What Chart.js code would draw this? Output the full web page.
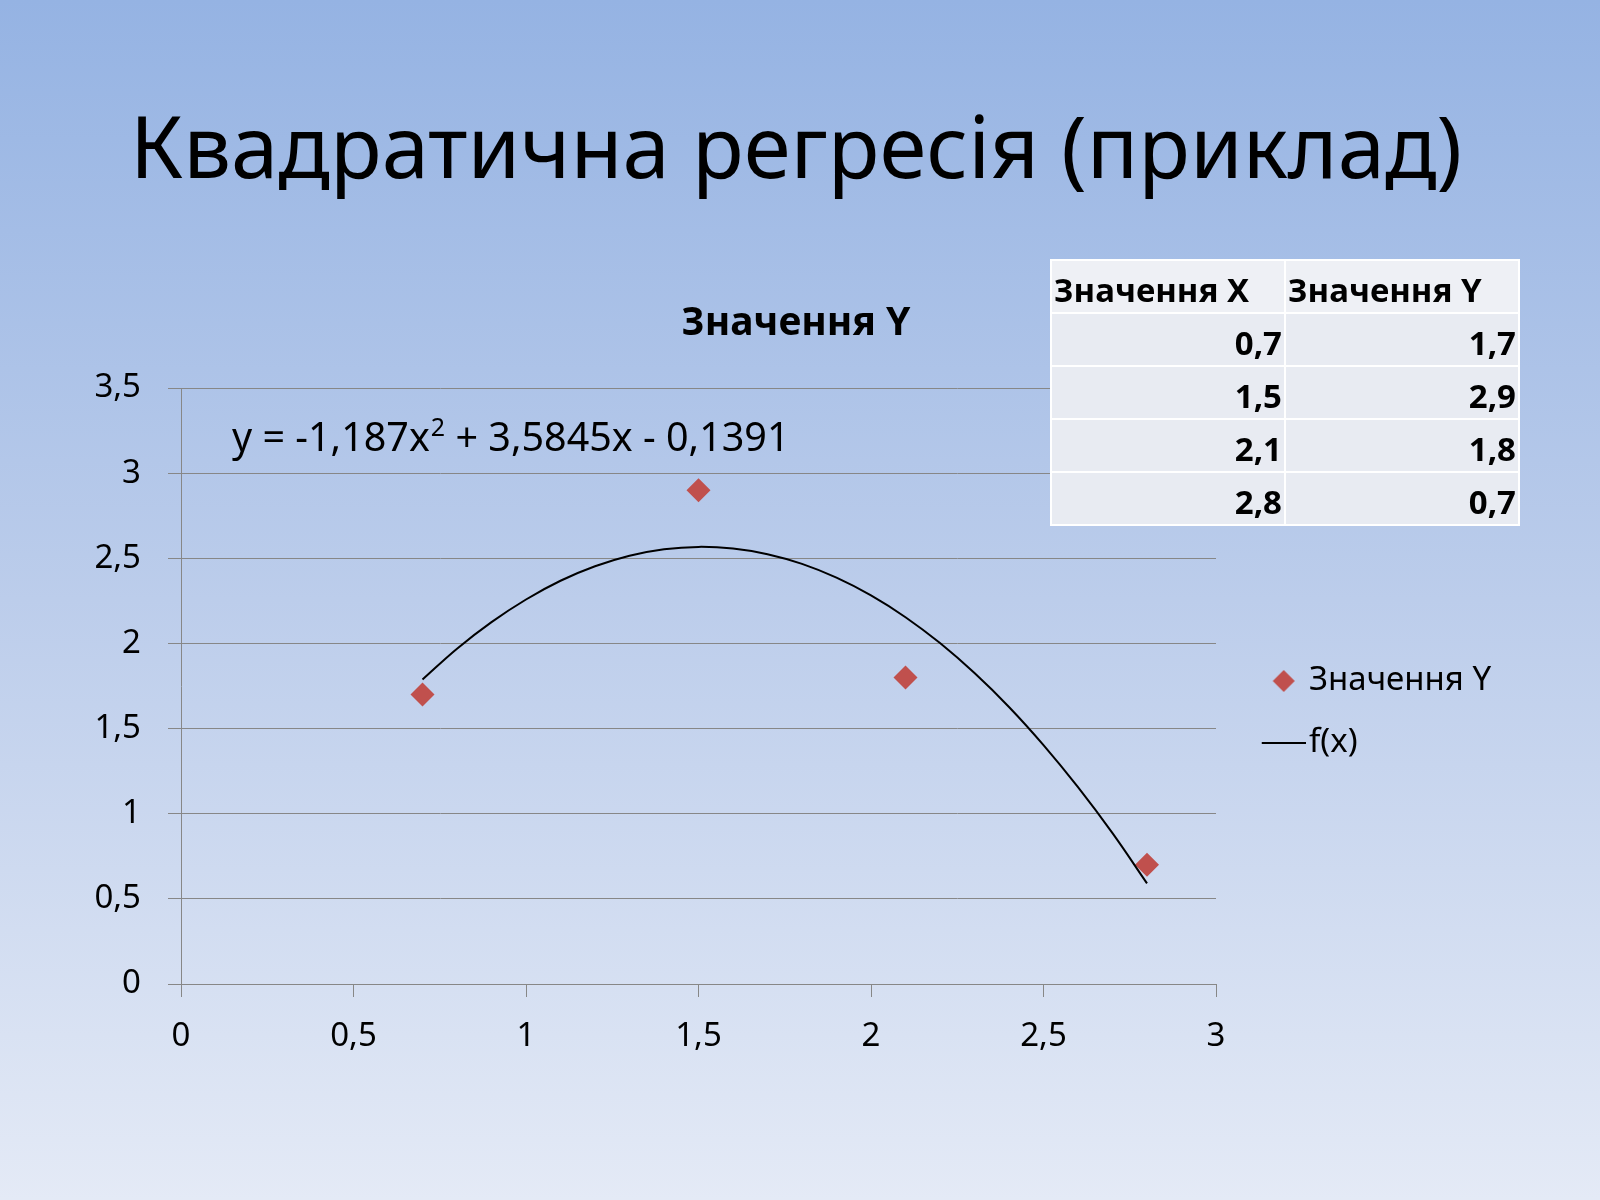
<!DOCTYPE html>
<html><head><meta charset="utf-8">
<script src="https://cdn.jsdelivr.net/npm/chart.js@4.4.0/dist/chart.umd.min.js"></script>
<style>
html,body{margin:0;padding:0;}
body{width:1600px;height:1200px;overflow:hidden;position:relative;background:linear-gradient(to bottom,#95b3e3 0%,#bccdeb 50%,#e4eaf6 100%);font-family:"Noto Sans",sans-serif;}
#c{position:absolute;left:0;top:0;}
#tbl{position:absolute;left:1050px;top:259px;border-collapse:collapse;font-family:"Noto Sans",sans-serif;font-weight:bold;font-size:33px;color:#000;}
#tbl td{width:228px;height:45px;padding:0 2px 6px 2px;border:2px solid #fff;background:#e8ebf2;vertical-align:bottom;text-align:right;line-height:1;white-space:nowrap;}
#tbl tr:first-child td{background:#eef0f5;text-align:left;}
</style></head>
<body>
<canvas id="c" width="1600" height="1200"></canvas>
<table id="tbl"></table>
<script>
const pageTitle = 'Квадратична регресія (приклад)';
const seriesLabel = 'Значення Y';
const trendLabel = 'f(x)';
const tableHeaders = ['Значення X', 'Значення Y'];
const xValues = [0.7, 1.5, 2.1, 2.8];
const yValues = [1.7, 2.9, 1.8, 0.7];
const xValueLabels = ['0,7', '1,5', '2,1', '2,8'];
const yValueLabels = ['1,7', '2,9', '1,8', '0,7'];
const curveX = [0.7, 0.8, 0.9, 1.0, 1.1, 1.2, 1.3, 1.4, 1.5, 1.6, 1.7, 1.8, 1.9, 2.0, 2.1, 2.2, 2.3, 2.4, 2.5, 2.6, 2.7, 2.8];
const curveY = [1.788, 1.969, 2.125, 2.258, 2.368, 2.453, 2.515, 2.553, 2.567, 2.557, 2.524, 2.467, 2.386, 2.282, 2.154, 2.002, 1.826, 1.627, 1.403, 1.156, 0.886, 0.591];
const xTickLabels = ['0', '0,5', '1', '1,5', '2', '2,5', '3'];
const yTickLabels = ['0', '0,5', '1', '1,5', '2', '2,5', '3', '3,5'];
const equationMain = 'y = -1,187x';
const equationSup = '2';
const equationRest = ' + 3,5845x - 0,1391';

// table
const tbl = document.getElementById('tbl');
let html = '<tr><td>' + tableHeaders[0] + '</td><td>' + tableHeaders[1] + '</td></tr>';
for (let i = 0; i < xValueLabels.length; i++) html += '<tr><td>' + xValueLabels[i] + '</td><td>' + yValueLabels[i] + '</td></tr>';
tbl.innerHTML = html;

const FONT = '"Noto Sans", sans-serif';
const GRID = '#878787';

function makeSwatch(kind) {
  const cv = document.createElement('canvas');
  const g = cv.getContext('2d');
  if (kind === 'diamond') {
    cv.width = 56; cv.height = 26;
    g.fillStyle = '#c0504d';
    g.beginPath(); g.moveTo(43, 2); g.lineTo(54, 13); g.lineTo(43, 24); g.lineTo(32, 13); g.closePath(); g.fill();
  } else {
    cv.width = 74; cv.height = 4;
    g.strokeStyle = '#000'; g.lineWidth = 2;
    g.beginPath(); g.moveTo(30, 2); g.lineTo(74, 2); g.stroke();
  }
  return cv;
}
const swatches = [makeSwatch('diamond'), makeSwatch('line')];

const equationPlugin = {
  id: 'equation',
  afterDatasetsDraw(chart) {
    const c = chart.ctx;
    c.save();
    c.fillStyle = '#000';
    c.textBaseline = 'alphabetic';
    c.font = '39.5px ' + FONT;
    let x = 232; const y = 451;
    c.fillText(equationMain, x, y); x += c.measureText(equationMain).width;
    c.font = '25px ' + FONT;
    c.fillText(equationSup, x + 1, y - 15); x += c.measureText(equationSup).width + 1;
    c.font = '39.5px ' + FONT;
    c.fillText(equationRest, x, y);
    c.restore();
  }
};

const chart = new Chart(document.getElementById('c'), {
  type: 'scatter',
  data: {
    datasets: [
      { label: seriesLabel, data: xValues.map((x, i) => ({x: x, y: yValues[i]})),
        pointStyle: 'rectRot', pointRadius: 12, pointHoverRadius: 12,
        backgroundColor: '#c0504d', borderColor: '#c0504d', borderWidth: 0, order: 1 },
      { label: trendLabel, data: curveX.map((x, i) => ({x: x, y: curveY[i]})),
        showLine: true, borderColor: '#000', borderWidth: 2, pointRadius: 0, pointHoverRadius: 0,
        tension: 0.4, fill: false, order: 0 }
    ]
  },
  options: {
    responsive: false, animation: false, devicePixelRatio: 1,
    layout: { padding: { left: 91, right: 100, top: 0, bottom: 136 } },
    plugins: {
      title: { display: true, text: pageTitle, color: '#000', font: { family: FONT, size: 85, weight: 'normal' }, padding: { top: 103, bottom: 0 } },
      subtitle: { display: true, text: seriesLabel, color: '#000', font: { family: FONT, size: 39, weight: 'bold' }, padding: { top: 95.6, bottom: 40.6 } },
      legend: {
        position: 'right', fullSize: false,
        title: { display: true, text: ' ', color: 'rgba(0,0,0,0)', font: { size: 10, lineHeight: 1.2 }, padding: { top: 20, bottom: 20 } },
        labels: {
          usePointStyle: true, pointStyleWidth: 47.5, padding: 29, color: '#000',
          font: { family: FONT, size: 33 },
          generateLabels(ch) {
            const items = Chart.defaults.plugins.legend.labels.generateLabels(ch);
            items.sort((a, b) => a.datasetIndex - b.datasetIndex);
            items.forEach(it => { it.pointStyle = swatches[it.datasetIndex]; it.lineWidth = 0; });
            return items;
          }
        }
      },
      tooltip: { enabled: false }
    },
    scales: {
      x: { type: 'linear', min: 0, max: 3,
        ticks: { stepSize: 0.5, callback: (v, i) => xTickLabels[i], color: '#000', font: { family: FONT, size: 33 }, padding: 20, maxRotation: 0 },
        grid: { drawOnChartArea: false, drawTicks: true, tickLength: 13, color: GRID },
        border: { display: true, color: GRID, width: 1 },
        afterFit(s) { s.height = 80; } },
      y: { type: 'linear', min: 0, max: 3.5,
        ticks: { stepSize: 0.5, callback: (v, i) => yTickLabels[i], color: '#000', font: { family: FONT, size: 33 }, padding: 27 },
        grid: { drawTicks: true, tickLength: 13, color: GRID },
        border: { display: true, color: GRID, width: 1 },
        afterFit(s) { s.width = 90; } }
    }
  },
  plugins: [equationPlugin]
});
const dr = chart.chartArea.right - 1216;
chart.options.layout.padding.right += dr;
chart.update();
</script>
</body></html>
